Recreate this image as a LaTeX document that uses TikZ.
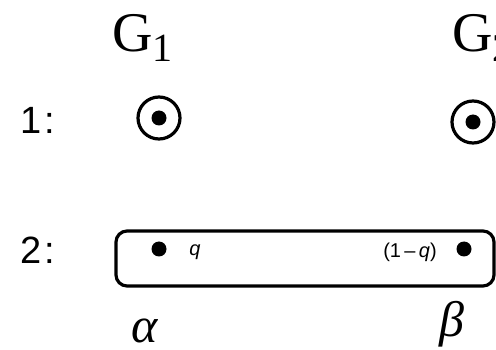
\documentclass[tikz,border=0pt]{standalone}
\usepackage{fontspec}
\setmainfont{Liberation Serif}
\setsansfont{Liberation Sans}
\begin{document}
\begin{tikzpicture}[x=1pt,y=-1pt,
  ring/.style={draw,circle,line width=3.2pt,minimum size=42pt,inner sep=0pt},
  dot/.style={fill,circle,minimum size=15pt,inner sep=0pt},
  rowlabel/.style={font=\sffamily\fontsize{38}{38}\selectfont,anchor=base west,inner sep=0pt},
  glabel/.style={font=\fontsize{56}{56}\selectfont,anchor=base west,inner sep=0pt},
  prob/.style={font=\sffamily\fontsize{20}{20}\selectfont,inner sep=0pt},
  greek/.style={font=\itshape\fontsize{50}{50}\selectfont,anchor=base,inner sep=0pt}]
\useasboundingbox (0,0) rectangle (496,350);
\clip (0,0) rectangle (496,350);
% column headers
\node[glabel] (g1) at (112,52) {G\raisebox{-10pt}{\fontsize{40}{40}\selectfont 1}};
\node[glabel] (g2) at (452,52) {G\raisebox{-10pt}{\fontsize{40}{40}\selectfont 2}};
% row labels
\node[rowlabel] (r1) at (20,134) {1\kern3pt:};
\node[rowlabel] (r2) at (20,264) {2\kern3pt:};
% row 1
\node[ring] (c1) at (159,118) {};
\node[dot] (d1) at (c1) {};
\node[ring] (c2) at (473,122) {};
\node[dot] (d2) at (c2) {};
% row 2
\draw[line width=3.2pt,rounded corners=11pt] (116,231) rectangle (494,286);
\node[dot] (a) at (159,249) {};
\node[dot] (b) at (464,249) {};
\node[prob] (q) at (195,252) {\itshape q};
\node[prob] (q1) at (410,252) {(1\,–\,\textit{q})};
\node[greek] (al) at (145,342) {α};
\node[greek] (be) at (452,336) {β};
\end{tikzpicture}
\end{document}
